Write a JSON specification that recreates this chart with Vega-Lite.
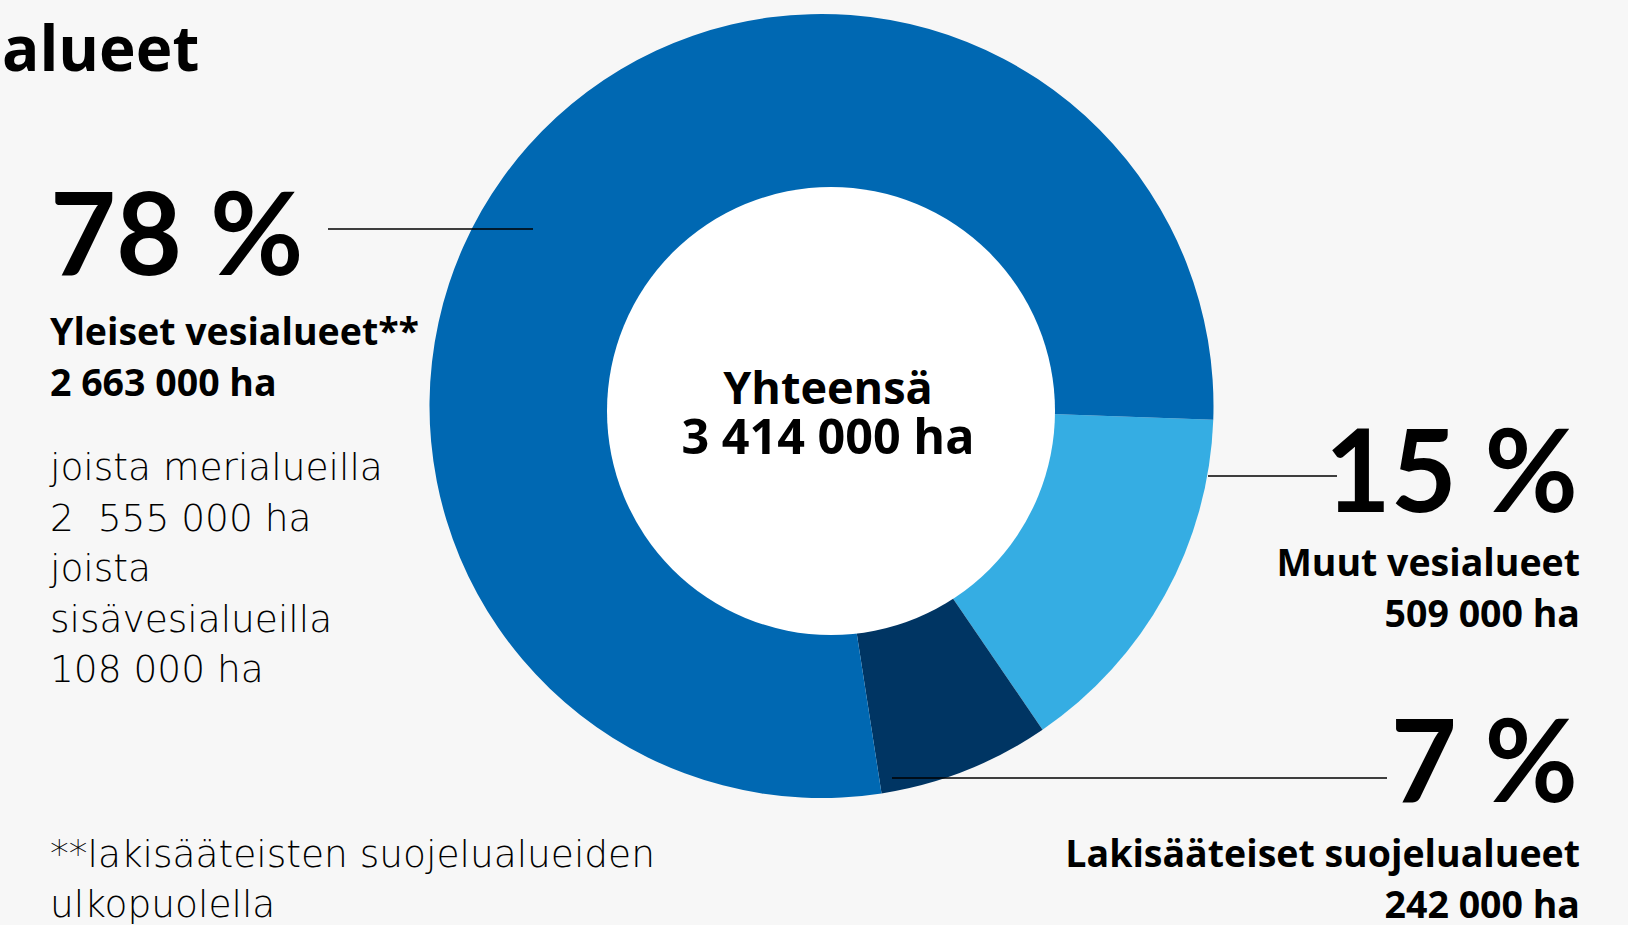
{
  "$schema": "https://vega.github.io/schema/vega-lite/v6.json",
  "width": 1613,
  "height": 812,
  "autosize": {"type": "none"},
  "padding": {"left": 15, "top": 0, "right": 0, "bottom": 113},
  "background": "#f7f7f7",
  "config": {"view": {"stroke": null}, "text": {"font": "Open Sans", "color": "#000000"}},
  "data": {"values": [
    {"alue": "Muut vesialueet", "ha": 509000, "osuus": "15 %", "jarjestys": 1},
    {"alue": "Lakisääteiset suojelualueet", "ha": 242000, "osuus": "7 %", "jarjestys": 2},
    {"alue": "Yleiset vesialueet", "ha": 2663000, "osuus": "78 %", "jarjestys": 3}
  ]},
  "layer": [
    {
      "mark": {"type": "arc", "outerRadius": 392},
      "encoding": {
        "theta": {"field": "ha", "type": "quantitative", "stack": true, "scale": {"range": [1.6057, 7.8889]}},
        "order": {"field": "jarjestys", "type": "quantitative"},
        "color": {"field": "alue", "type": "nominal", "legend": null,
          "scale": {"domain": ["Yleiset vesialueet", "Muut vesialueet", "Lakisääteiset suojelualueet"], "range": ["#0068b2", "#35ade3", "#003563"]}}
      }
    },
    {
      "data": {"values": [{}]},
      "mark": {"type": "point", "shape": "circle", "filled": true, "color": "#ffffff", "opacity": 1, "size": 200704},
      "encoding": {
        "x": {"datum": 831, "type": "quantitative", "scale": {"domain": [15, 1628], "nice": false, "zero": false}, "axis": null},
        "y": {"datum": 411, "type": "quantitative", "scale": {"domain": [0, 812], "nice": false, "zero": false, "reverse": true}, "axis": null}
      }
    },
    {
      "data": {"values": [{}]},
      "mark": {"type": "rule", "color": "#000000", "strokeWidth": 1.5},
      "encoding": {
        "x": {"datum": 328, "type": "quantitative", "scale": {"domain": [15, 1628], "nice": false, "zero": false}, "axis": null},
        "x2": {"datum": 533},
        "y": {"datum": 229, "type": "quantitative", "scale": {"domain": [0, 812], "nice": false, "zero": false, "reverse": true}, "axis": null}
      }
    },
    {
      "data": {"values": [{}]},
      "mark": {"type": "rule", "color": "#000000", "strokeWidth": 1.5},
      "encoding": {
        "x": {"datum": 1208, "type": "quantitative", "scale": {"domain": [15, 1628], "nice": false, "zero": false}, "axis": null},
        "x2": {"datum": 1337},
        "y": {"datum": 476, "type": "quantitative", "scale": {"domain": [0, 812], "nice": false, "zero": false, "reverse": true}, "axis": null}
      }
    },
    {
      "data": {"values": [{}]},
      "mark": {"type": "rule", "color": "#000000", "strokeWidth": 1.5},
      "encoding": {
        "x": {"datum": 892, "type": "quantitative", "scale": {"domain": [15, 1628], "nice": false, "zero": false}, "axis": null},
        "x2": {"datum": 1387},
        "y": {"datum": 778, "type": "quantitative", "scale": {"domain": [0, 812], "nice": false, "zero": false, "reverse": true}, "axis": null}
      }
    },
    {
      "data": {"values": [{}]},
      "mark": {"type": "text", "fontSize": 62, "fontWeight": "bold", "align": "left", "baseline": "alphabetic", "text": "alueet"},
      "encoding": {
        "x": {"datum": 2, "type": "quantitative", "scale": {"domain": [15, 1628], "nice": false, "zero": false}, "axis": null},
        "y": {"datum": 71, "type": "quantitative", "scale": {"domain": [0, 812], "nice": false, "zero": false, "reverse": true}, "axis": null}
      }
    },
    {
      "transform": [{"filter": "datum.jarjestys === 3"}],
      "mark": {"type": "text", "font": "Lato", "fontSize": 114, "fontWeight": "bold", "align": "left", "baseline": "alphabetic"},
      "encoding": {
        "text": {"field": "osuus"},
        "x": {"datum": 50, "type": "quantitative", "scale": {"domain": [15, 1628], "nice": false, "zero": false}, "axis": null},
        "y": {"datum": 275, "type": "quantitative", "scale": {"domain": [0, 812], "nice": false, "zero": false, "reverse": true}, "axis": null}
      }
    },
    {
      "transform": [{"filter": "datum.jarjestys === 1"}],
      "mark": {"type": "text", "font": "Lato", "fontSize": 114, "fontWeight": "bold", "align": "right", "baseline": "alphabetic"},
      "encoding": {
        "text": {"field": "osuus"},
        "x": {"datum": 1578, "type": "quantitative", "scale": {"domain": [15, 1628], "nice": false, "zero": false}, "axis": null},
        "y": {"datum": 512, "type": "quantitative", "scale": {"domain": [0, 812], "nice": false, "zero": false, "reverse": true}, "axis": null}
      }
    },
    {
      "transform": [{"filter": "datum.jarjestys === 2"}],
      "mark": {"type": "text", "font": "Lato", "fontSize": 114, "fontWeight": "bold", "align": "right", "baseline": "alphabetic"},
      "encoding": {
        "text": {"field": "osuus"},
        "x": {"datum": 1578, "type": "quantitative", "scale": {"domain": [15, 1628], "nice": false, "zero": false}, "axis": null},
        "y": {"datum": 802, "type": "quantitative", "scale": {"domain": [0, 812], "nice": false, "zero": false, "reverse": true}, "axis": null}
      }
    },
    {
      "data": {"values": [{}]},
      "mark": {"type": "text", "fontSize": 37.5, "fontWeight": "bold", "align": "left", "baseline": "alphabetic", "lineHeight": 51, "text": ["Yleiset vesialueet**", "2 663 000 ha"]},
      "encoding": {
        "x": {"datum": 50, "type": "quantitative", "scale": {"domain": [15, 1628], "nice": false, "zero": false}, "axis": null},
        "y": {"datum": 345, "type": "quantitative", "scale": {"domain": [0, 812], "nice": false, "zero": false, "reverse": true}, "axis": null}
      }
    },
    {
      "data": {"values": [{}]},
      "mark": {"type": "text", "font": "DejaVu Sans", "fontSize": 37.5, "fontWeight": 200, "align": "left", "baseline": "alphabetic", "lineHeight": 50.5, "text": ["joista merialueilla", "2\u00a0\u00a0555 000 ha", "joista", "sisävesialueilla", "108 000 ha"]},
      "encoding": {
        "x": {"datum": 50, "type": "quantitative", "scale": {"domain": [15, 1628], "nice": false, "zero": false}, "axis": null},
        "y": {"datum": 480, "type": "quantitative", "scale": {"domain": [0, 812], "nice": false, "zero": false, "reverse": true}, "axis": null}
      }
    },
    {
      "data": {"values": [{}]},
      "mark": {"type": "text", "font": "DejaVu Sans", "fontSize": 37.5, "fontWeight": 200, "align": "left", "baseline": "alphabetic", "lineHeight": 50, "text": ["**lakisääteisten suojelualueiden", "ulkopuolella"]},
      "encoding": {
        "x": {"datum": 50, "type": "quantitative", "scale": {"domain": [15, 1628], "nice": false, "zero": false}, "axis": null},
        "y": {"datum": 867, "type": "quantitative", "scale": {"domain": [0, 812], "nice": false, "zero": false, "reverse": true}, "axis": null}
      }
    },
    {
      "data": {"values": [{}]},
      "mark": {"type": "text", "fontSize": 45, "fontWeight": "bold", "align": "center", "baseline": "alphabetic", "text": "Yhteensä"},
      "encoding": {
        "x": {"datum": 828, "type": "quantitative", "scale": {"domain": [15, 1628], "nice": false, "zero": false}, "axis": null},
        "y": {"datum": 404, "type": "quantitative", "scale": {"domain": [0, 812], "nice": false, "zero": false, "reverse": true}, "axis": null}
      }
    },
    {
      "data": {"values": [{}]},
      "mark": {"type": "text", "fontSize": 48.5, "fontWeight": "bold", "align": "center", "baseline": "alphabetic", "text": "3 414 000 ha"},
      "encoding": {
        "x": {"datum": 828, "type": "quantitative", "scale": {"domain": [15, 1628], "nice": false, "zero": false}, "axis": null},
        "y": {"datum": 454, "type": "quantitative", "scale": {"domain": [0, 812], "nice": false, "zero": false, "reverse": true}, "axis": null}
      }
    },
    {
      "data": {"values": [{}]},
      "mark": {"type": "text", "fontSize": 37.5, "fontWeight": "bold", "align": "right", "baseline": "alphabetic", "lineHeight": 51, "text": ["Muut vesialueet", "509 000 ha"]},
      "encoding": {
        "x": {"datum": 1580, "type": "quantitative", "scale": {"domain": [15, 1628], "nice": false, "zero": false}, "axis": null},
        "y": {"datum": 576, "type": "quantitative", "scale": {"domain": [0, 812], "nice": false, "zero": false, "reverse": true}, "axis": null}
      }
    },
    {
      "data": {"values": [{}]},
      "mark": {"type": "text", "fontSize": 37.5, "fontWeight": "bold", "align": "right", "baseline": "alphabetic", "lineHeight": 51, "text": ["Lakisääteiset suojelualueet", "242 000 ha"]},
      "encoding": {
        "x": {"datum": 1580, "type": "quantitative", "scale": {"domain": [15, 1628], "nice": false, "zero": false}, "axis": null},
        "y": {"datum": 867, "type": "quantitative", "scale": {"domain": [0, 812], "nice": false, "zero": false, "reverse": true}, "axis": null}
      }
    }
  ]
}
